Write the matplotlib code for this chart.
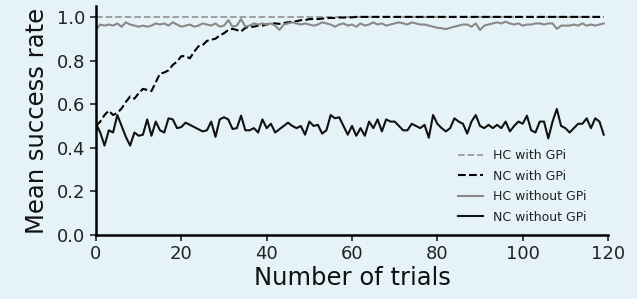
import matplotlib.pyplot as plt
import numpy as np

trials = np.arange(120)

hc_gpi = [1.0] * 120

nc_gpi = [0.50, 0.52, 0.55, 0.57, 0.55, 0.56, 0.58, 0.61, 0.635, 0.625,
          0.65, 0.67, 0.665, 0.66, 0.70, 0.74, 0.745, 0.755, 0.78, 0.795,
          0.82, 0.82, 0.81, 0.84, 0.865, 0.87, 0.89, 0.895, 0.90, 0.915,
          0.925, 0.94, 0.945, 0.94, 0.933, 0.95, 0.955, 0.955, 0.96, 0.96,
          0.965, 0.97, 0.97, 0.968, 0.972, 0.975, 0.978, 0.98, 0.985, 0.985,
          0.99, 0.99, 0.99, 0.992, 0.995, 0.995, 0.995, 0.997, 0.997, 0.998,
          0.998] + [1.0] * 59

hc_nogpi = [0.94, 0.965, 0.96, 0.965, 0.96, 0.97, 0.955, 0.975, 0.965, 0.96,
            0.955, 0.96, 0.955, 0.96, 0.97, 0.965, 0.97, 0.96, 0.975, 0.965,
            0.955, 0.96, 0.965, 0.955, 0.96, 0.97, 0.965, 0.96, 0.97, 0.955,
            0.96, 0.985, 0.955, 0.96, 0.99, 0.955, 0.96, 0.97, 0.965, 0.97,
            0.965, 0.97, 0.96, 0.94, 0.965, 0.97, 0.975, 0.97, 0.965, 0.97,
            0.965, 0.96, 0.965, 0.975, 0.97, 0.965, 0.955, 0.965, 0.97, 0.96,
            0.965, 0.955, 0.97, 0.96, 0.965, 0.975, 0.965, 0.97, 0.96, 0.965,
            0.97, 0.975, 0.97, 0.965, 0.975, 0.97, 0.965, 0.965, 0.96, 0.955,
            0.95, 0.948, 0.944, 0.95, 0.955, 0.96, 0.965, 0.965, 0.955, 0.97,
            0.94, 0.96, 0.965, 0.97, 0.975, 0.97, 0.978, 0.97, 0.965, 0.97,
            0.96, 0.965, 0.965, 0.97, 0.97, 0.965, 0.97, 0.97, 0.945, 0.96,
            0.96, 0.96, 0.965, 0.96, 0.97, 0.96, 0.965, 0.96, 0.965, 0.97]

nc_nogpi = [0.51, 0.47, 0.41, 0.48, 0.47, 0.55, 0.50, 0.45, 0.41, 0.47,
            0.455, 0.46, 0.53, 0.455, 0.52, 0.48, 0.47, 0.535, 0.53, 0.49,
            0.495, 0.515, 0.505, 0.495, 0.485, 0.475, 0.48, 0.52, 0.45, 0.53,
            0.54, 0.53, 0.486, 0.49, 0.547, 0.48, 0.48, 0.49, 0.47, 0.53,
            0.49, 0.51, 0.47, 0.485, 0.50, 0.515, 0.50, 0.49, 0.50, 0.46,
            0.52, 0.50, 0.505, 0.465, 0.48, 0.55, 0.535, 0.54, 0.50, 0.46,
            0.50, 0.455, 0.49, 0.455, 0.52, 0.49, 0.53, 0.475, 0.53, 0.52,
            0.52, 0.50, 0.48, 0.48, 0.51, 0.50, 0.49, 0.505, 0.446, 0.55,
            0.51, 0.49, 0.475, 0.49, 0.535, 0.52, 0.51, 0.465, 0.52, 0.55,
            0.50, 0.49, 0.505, 0.49, 0.505, 0.49, 0.52, 0.475, 0.50, 0.52,
            0.51, 0.547, 0.48, 0.47, 0.52, 0.52, 0.443, 0.52, 0.578, 0.50,
            0.49, 0.47, 0.49, 0.51, 0.51, 0.535, 0.49, 0.535, 0.52, 0.46]

bg = '#e5f2f7'
fig = plt.figure(figsize=(6.37, 2.99), dpi=100, facecolor=bg)
ax = fig.add_axes([0.1507, 0.214, 0.8038, 0.766], facecolor=bg)

ax.plot(trials, hc_gpi, '--', color='#999999', lw=1.3, label='HC with GPi')
ax.plot(trials, nc_gpi, '--', color='black', lw=1.5, label='NC with GPi')
ax.plot(trials, hc_nogpi, '-', color='#888888', lw=1.5, label='HC without GPi')
ax.plot(trials, nc_nogpi, '-', color='#111111', lw=1.5, label='NC without GPi')

ax.set_xlim(0, 120)
ax.set_ylim(0, 1.05)
ax.set_xticks(range(0, 121, 20))
ax.set_yticks([0.0, 0.2, 0.4, 0.6, 0.8, 1.0])
ax.set_yticklabels(['0.0', '0.2', '0.4', '0.6', '0.8', '1.0'])
ax.tick_params(labelsize=13, length=4, width=1.2, colors='#222222')
ax.spines['top'].set_visible(False)
ax.spines['right'].set_visible(False)
ax.spines['left'].set_linewidth(1.8)
ax.spines['bottom'].set_linewidth(1.8)
ax.set_xlabel('Number of trials', fontsize=17.5, color='#111111', labelpad=2)
ax.set_ylabel('Mean success rate', fontsize=17.5, color='#111111', labelpad=6)

leg = ax.legend(loc='lower right', bbox_to_anchor=(0.98, 0.0), frameon=False,
                fontsize=9, handlelength=2.0, labelspacing=0.6)
for t in leg.get_texts():
    t.set_color('#222222')

plt.savefig('out.png', dpi=100, facecolor=bg)
